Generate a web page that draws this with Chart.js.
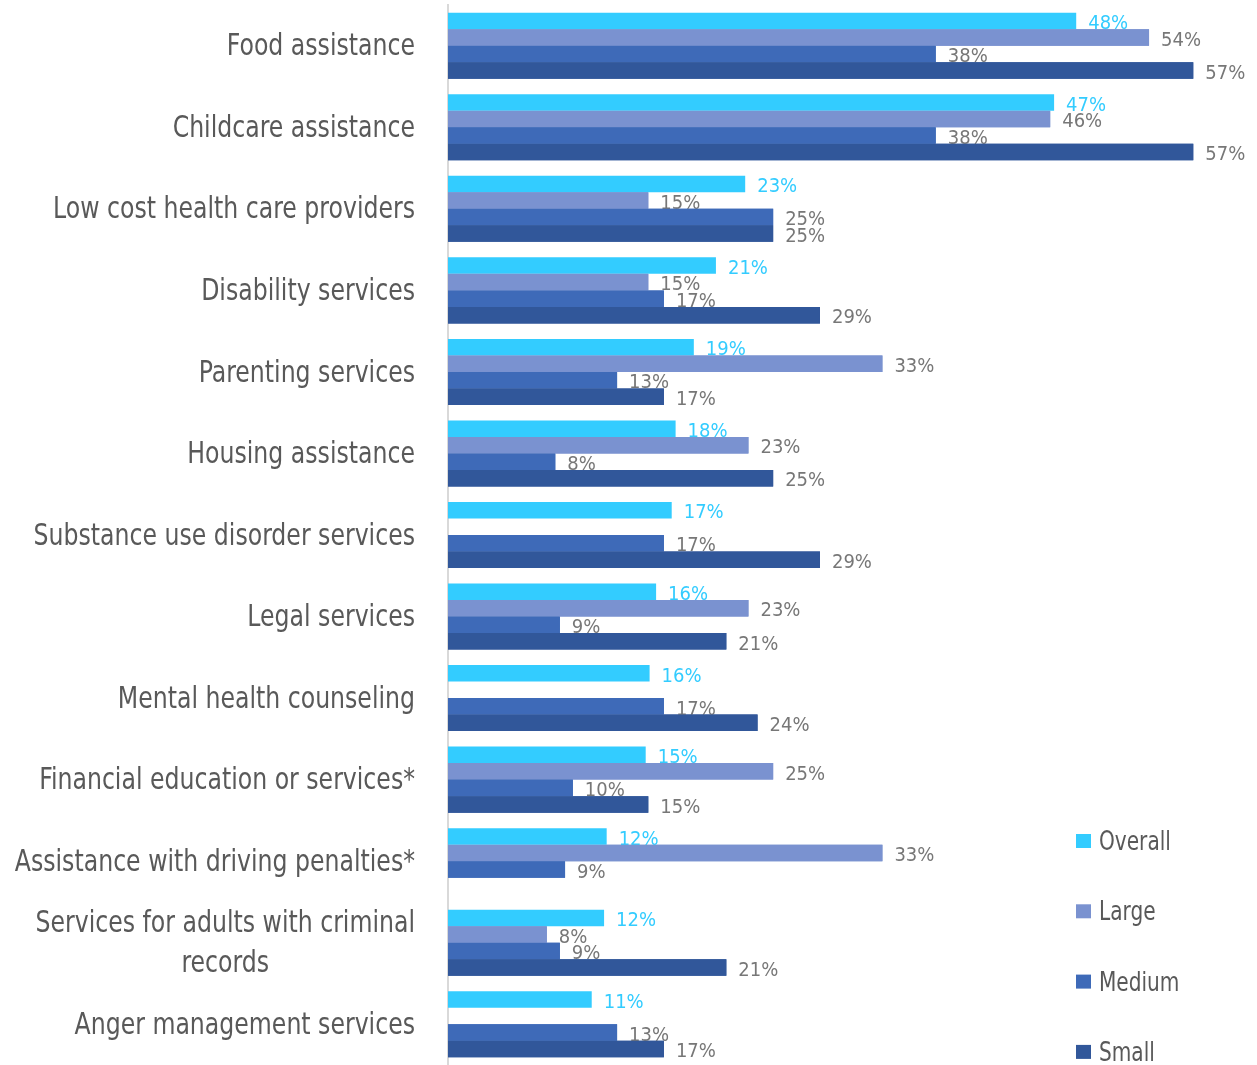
<!DOCTYPE html>
<html><head><meta charset="utf-8">
<script src="https://cdn.jsdelivr.net/npm/chart.js@4.4.1/dist/chart.umd.min.js"></script>
<style>html,body{margin:0;padding:0;background:#fff;overflow:hidden;}</style>
</head><body>
<canvas id="c" width="1257" height="1065"></canvas>
<script>
const categories = [
  'Food assistance',
  'Childcare assistance',
  'Low cost health care providers',
  'Disability services',
  'Parenting services',
  'Housing assistance',
  'Substance use disorder services',
  'Legal services',
  'Mental health counseling',
  'Financial education or services*',
  'Assistance with driving penalties*',
  ['Services for adults with criminal', 'records'],
  'Anger management services'
];
const seriesNames = ['Overall', 'Large', 'Medium', 'Small'];
const overall = [48.3, 46.6, 22.85, 20.6, 18.9, 17.5, 17.2, 16.0, 15.5, 15.2, 12.2, 12.0, 11.05];
const large   = [53.9, 46.3, 15.4, 15.4, 33.4, 23.1, null, 23.1, null, 25.0, 33.4, 7.6, null];
const medium  = [37.5, 37.5, 25.0, 16.6, 13.0, 8.25, 16.6, 8.6, 16.6, 9.6, 9.0, 8.6, 13.0];
const small   = [57.3, 57.3, 25.0, 28.6, 16.6, 25.0, 28.6, 21.4, 23.8, 15.4, null, 21.4, 16.6];

const colors = ['#33CCFF', '#7A92D0', '#3E6AB8', '#31579A'];
const labelColors = ['#33CCFF', '#777777', '#777777', '#777777'];

const CAT_FONT_SIZE = 30;
const CAT_FONT = CAT_FONT_SIZE + 'px "DejaVu Sans Condensed", "DejaVu Sans", sans-serif';
const CAT_SCALE_X = 0.875;
const VAL_FONT_SIZE = 20;
const VAL_FONT = VAL_FONT_SIZE + 'px "DejaVu Sans Condensed", "DejaVu Sans", sans-serif';
const LEG_FONT = '26px "DejaVu Sans Condensed", "DejaVu Sans", sans-serif';
const LEG_SCALE_X = 0.86;

function drawValueLabels(chart, i) {
  const ctx = chart.ctx;
  const ds = chart.data.datasets[i];
  const meta = chart.getDatasetMeta(i);
  ctx.save();
  ctx.font = VAL_FONT;
  ctx.fillStyle = labelColors[i];
  ctx.textAlign = 'left';
  ctx.textBaseline = 'alphabetic';
  meta.data.forEach((el, j) => {
    const v = ds.data[j];
    if (v === null || v === undefined) return;
    ctx.fillText(Math.round(v) + '%', el.x + 12, el.y + 1 + VAL_FONT_SIZE * 0.36);
  });
  ctx.restore();
}

function scaledText(ctx, text, x, y, sx) {
  ctx.save();
  ctx.translate(x, y);
  ctx.scale(sx, 1);
  ctx.fillText(text, 0, 0);
  ctx.restore();
}

const customPlugin = {
  id: 'customDraw',
  afterDatasetsDraw(chart) {
    const ctx = chart.ctx;
    const n = chart.data.datasets.length;
    for (let i = 0; i < n; i++) {
      if (i > 0) {
        const ds = chart.data.datasets[i];
        const meta = chart.getDatasetMeta(i);
        meta.data.forEach((el, j) => {
          if (ds.data[j] !== null && ds.data[j] !== undefined) el.draw(ctx);
        });
      }
      drawValueLabels(chart, i);
    }
  },
  afterDraw(chart) {
    const ctx = chart.ctx;
    const yScale = chart.scales.y;
    // category labels
    ctx.save();
    ctx.font = CAT_FONT;
    ctx.fillStyle = '#595959';
    ctx.textBaseline = 'alphabetic';
    ctx.textAlign = 'center';
    const rightX = 415;
    const lineH = 40;
    chart.data.labels.forEach((lab, i) => {
      const cy = yScale.getPixelForTick(i);
      const lines = Array.isArray(lab) ? lab : [lab];
      const widths = lines.map(l => ctx.measureText(l).width * CAT_SCALE_X);
      const blockW = Math.max(...widths);
      const centerX = rightX - blockW / 2;
      const startY = cy - (lines.length - 1) * lineH / 2;
      lines.forEach((l, k) => {
        scaledText(ctx, l, centerX, startY + k * lineH + CAT_FONT_SIZE * 0.32, CAT_SCALE_X);
      });
    });
    ctx.restore();
    // legend
    ctx.save();
    ctx.font = LEG_FONT;
    ctx.textBaseline = 'alphabetic';
    ctx.textAlign = 'left';
    chart.data.datasets.forEach((ds, i) => {
      const cy = 841 + i * 70.3;
      ctx.fillStyle = ds.backgroundColor;
      ctx.fillRect(1076, cy - 7, 15, 14);
      ctx.fillStyle = '#595959';
      scaledText(ctx, ds.label, 1099, cy + 9, LEG_SCALE_X);
    });
    ctx.restore();
  }
};

const seriesData = [overall, large, medium, small];
new Chart(document.getElementById('c'), {
  type: 'bar',
  data: {
    labels: categories,
    datasets: seriesNames.map((name, i) => ({
      label: name,
      data: seriesData[i],
      backgroundColor: colors[i],
      borderWidth: 0,
      categoryPercentage: 0.81,
      barPercentage: 1.0
    }))
  },
  options: {
    indexAxis: 'y',
    responsive: false,
    animation: false,
    devicePixelRatio: 1,
    layout: { padding: { top: 5, right: 0, bottom: 0, left: 0 } },
    plugins: { legend: { display: false }, tooltip: { enabled: false } },
    scales: {
      x: { display: false, min: 0, max: 62.2 },
      y: {
        offset: true,
        grid: { display: false, drawTicks: false },
        border: { display: true, color: '#D9D9D9', width: 2 },
        ticks: { display: false },
        afterFit(scale) { scale.width = 448; }
      }
    }
  },
  plugins: [customPlugin]
});
</script>
</body></html>
